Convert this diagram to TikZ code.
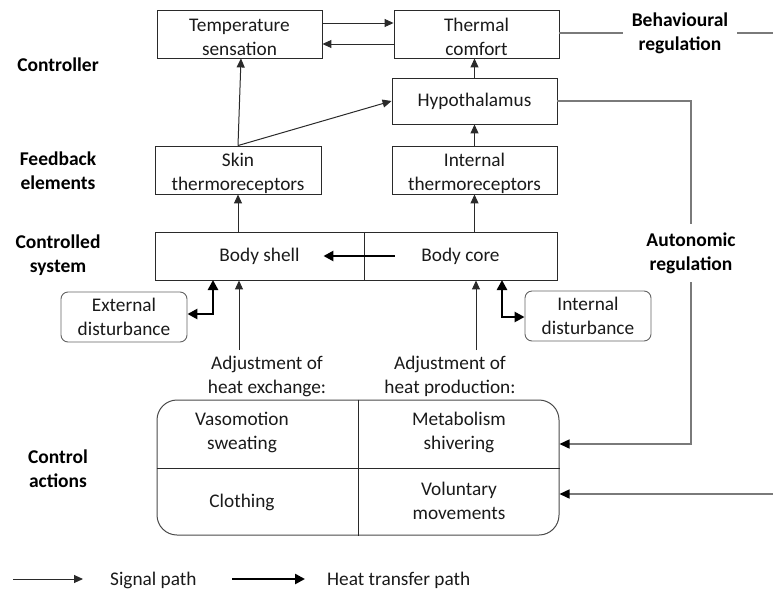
\documentclass[tikz,border=0pt]{standalone}
\usepackage{fontspec}
\setmainfont{Carlito}
\usetikzlibrary{arrows.meta,calc}
\definecolor{txt}{HTML}{1A1A1A}
\definecolor{edge}{HTML}{2A2A2A}
\definecolor{gline}{HTML}{7A7A7A}
\newcommand\toprule{\rule{0pt}{20pt}}
\newcommand\botrule{\rule[-2pt]{0pt}{2pt}}
\tikzset{
  box/.style={draw=edge,line width=0.9pt,rectangle,align=center,inner sep=0pt,text=txt},
  rbox/.style={box,rounded corners=7pt,draw=gline!80!black},
  lbl/.style={align=center,font=\fontsize{19.5}{24}\selectfont\bfseries,text=black,inner sep=0pt},
  plain/.style={align=center,text=txt,inner sep=0pt},
  sig/.style={draw=edge,line width=1pt,-{Triangle[length=9pt,width=8pt]}},
  gsig/.style={draw=gline,line width=1.5pt},
  heat/.style={draw=black,line width=2.8pt,-{Triangle[length=10pt,width=10pt]}},
  heatboth/.style={draw=black,line width=2.8pt,{Triangle[length=10pt,width=10pt]}-{Triangle[length=10pt,width=10pt]}},
}
\begin{document}
\begin{tikzpicture}[x=1pt,y=-1pt,font=\fontsize{19.3}{24}\selectfont]
\useasboundingbox (0,0) rectangle (773,592);

% left labels
\node[lbl] (lc) at (58,65) {Controller};
\node[lbl] (lf) at (58,171) {Feedback\\elements};
\node[lbl] (ls) at (58,255) {Controlled\\system};
\node[lbl] (la) at (58,469) {Control\\actions};

% controller boxes
\node[box,minimum width=165pt,minimum height=48pt] (temp) at (239.5,34) {\toprule Temperature\\sensation\botrule};
\node[box,minimum width=165pt,minimum height=48pt] (comf) at (476.5,34) {\toprule Thermal\\comfort\botrule};
\node[box,minimum width=165pt,minimum height=46pt] (hypo) at (474.5,101) {Hypothalamus};

% feedback boxes
\node[box,minimum width=166pt,minimum height=48pt] (skin) at (238,170) {\toprule Skin\\thermoreceptors};
\node[box,minimum width=165pt,minimum height=48pt] (intr) at (474.5,170) {\toprule Internal\\thermoreceptors};

% controlled system
\node[box,minimum width=209pt,minimum height=48pt] (shell) at (259.5,256) {Body shell};
\node[box,minimum width=193pt,minimum height=48pt] (core) at (460.5,256) {Body core};

% disturbances
\node[rbox,minimum width=126pt,minimum height=50pt] (ext) at (124,317) {External\\disturbance};
\node[rbox,minimum width=126pt,minimum height=50pt] (intd) at (588,316) {Internal\\disturbance};

% adjustment labels
\node[plain] (adjL) at (267,376) {Adjustment of\\heat exchange:};
\node[plain] (adjR) at (450,376) {Adjustment of\\heat production:};

% control actions box
\node[draw=edge!85,line width=1pt,rounded corners=20pt,minimum width=402pt,minimum height=135pt,inner sep=0pt] (ctrl) at (358,467.5) {};
\draw[draw=edge,line width=0.9pt] (ctrl.north) -- (ctrl.south);
\draw[draw=edge,line width=0.9pt] (ctrl.west |- 0,468) -- (ctrl.east |- 0,468);
\node[plain] (vs) at (242,432.5) {Vasomotion\\sweating};
\node[plain] (ms) at (459,432.5) {Metabolism\\shivering};
\node[plain] (cl) at (242,502) {Clothing};
\node[plain] (vm) at (459,500.5) {Voluntary\\movements};

% right labels
\node[lbl,inner xsep=9pt] (behav) at (680,33) {Behavioural\\regulation};
\node[lbl,minimum height=58pt] (auto) at (691,253) {Autonomic\\regulation};

% signal connectors
\draw[sig] ([yshift=11pt]temp.east) -- ([yshift=11pt]comf.west);
\draw[sig] ([yshift=-10pt]comf.west) -- ([yshift=-10pt]temp.east);
\draw[sig] (hypo.north) -- (hypo.north |- comf.south);
\draw[sig] (intr.north) -- (hypo.south);
\draw[sig] (skin.north) -- ([xshift=1.5pt]temp.south);
\draw[sig] (skin.north) -- (hypo.west);
\draw[sig] (shell.north -| skin) -- (skin.south);
\draw[sig] (core.north -| intr) -- (intr.south);
\coordinate (a1) at (239,350);
\coordinate (a2) at (476,350);
\draw[sig] (a1) -- (a1 |- shell.south);
\draw[sig] (a2) -- (a2 |- core.south);

% heat connectors
\draw[heat] ([xshift=31pt]core.west) -- ([xshift=-41pt]shell.east);
\coordinate (e1) at (213,280);
\coordinate (i1) at (502,280);
\draw[heatboth] ([yshift=3pt]ext.east) -| (e1);
\draw[heatboth] (i1) |- ([yshift=-1pt]intd.west);

% regulation lines
\coordinate (bR) at (773,34);
\coordinate (vR) at (773,494);
\draw[gsig] (comf.east |- 0,33) -- (behav.west |- 0,33);
\draw[gsig] (behav.east |- 0,33) -- (bR |- 0,33);
\draw[gsig] (hypo.east) -| (auto.north);
\draw[gsig,-{Triangle[length=10pt,width=9pt,color=black]}] (auto.south) |- (ctrl.east |- 0,444);
\draw[gsig,-{Triangle[length=10pt,width=9pt,color=black]}] (vR) -- (ctrl.east |- vR);

% legend
\coordinate (s1) at (13,579);
\coordinate (s2) at (83,579);
\coordinate (h1) at (232,579);
\coordinate (h2) at (305,579);
\draw[sig] (s1) -- (s2);
\node[plain,anchor=west] (sigtxt) at (110,580) {Signal path};
\draw[heat] (h1) -- (h2);
\node[plain,anchor=west] (heattxt) at (327,580) {Heat transfer path};
\end{tikzpicture}
\end{document}
